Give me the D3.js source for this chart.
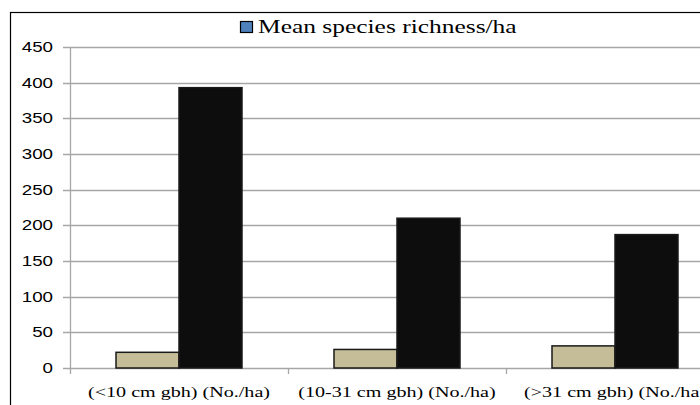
<!DOCTYPE html>
<html>
<head>
<meta charset="utf-8">
<script src="https://cdn.jsdelivr.net/npm/d3@7"></script>
<style>
  body { margin: 0; background: #fff; }
  svg { display: block; }
</style>
</head>
<body>
<svg id="drawing_region"></svg>
<script>
// values
const categories = ["(<10 cm gbh) (No./ha)", "(10-31 cm gbh) (No./ha)", "(>31 cm gbh) (No./ha)"];
const series = ["richness", "density"];
const richness = [22, 26, 31];
const density = [393, 210, 187];
const yTicks = [0, 50, 100, 150, 200, 250, 300, 350, 400, 450];
const legendLabel = "Mean species richness/ha";

const colors = { richness: "#C4BD97", density: "#0D0D0D" };
const stretch = 1.34; // picture is stretched sideways

const width = 700, height = 405;
const margin = { top: 47, left: 70 };
const plotRight = 724, plotBottom = 368;

const svg = d3.select("#drawing_region")
    .attr("width", width)
    .attr("height", height);

// outer chart frame
svg.append("rect")
    .attr("x", 10.5).attr("y", 12.5)
    .attr("width", 760).attr("height", 420)
    .attr("fill", "none")
    .attr("stroke", "#000")
    .attr("stroke-width", 1.2);

const yscale = d3.scaleLinear()
    .domain([0, 450])
    .range([plotBottom, margin.top]);

const xscale = d3.scaleBand()
    .domain(categories)
    .range([margin.left, plotRight]);

const groupWidth = 126;
const x1 = d3.scaleBand()
    .domain(series)
    .range([(xscale.bandwidth() - groupWidth) / 2, (xscale.bandwidth() + groupWidth) / 2]);

// gridlines
svg.append("g")
    .selectAll("line")
    .data(yTicks)
    .join("line")
    .attr("x1", margin.left - 7)
    .attr("x2", plotRight)
    .attr("y1", d => Math.round(yscale(d)) + 0.5)
    .attr("y2", d => Math.round(yscale(d)) + 0.5)
    .attr("stroke", "#A6A6A6")
    .attr("stroke-width", 1.3);

// y axis line
svg.append("line")
    .attr("x1", margin.left + 0.5).attr("x2", margin.left + 0.5)
    .attr("y1", margin.top).attr("y2", plotBottom + 6)
    .attr("stroke", "#A6A6A6")
    .attr("stroke-width", 1.3);

// category tick marks
svg.append("g")
    .selectAll("line")
    .data(categories.slice(1))
    .join("line")
    .attr("x1", d => Math.round(xscale(d)) + 0.5)
    .attr("x2", d => Math.round(xscale(d)) + 0.5)
    .attr("y1", plotBottom)
    .attr("y2", plotBottom + 6)
    .attr("stroke", "#A6A6A6")
    .attr("stroke-width", 1.3);

// y tick labels
svg.append("g")
    .selectAll("text")
    .data(yTicks)
    .join("text")
    .attr("transform", d => `translate(53, ${yscale(d) + 5}) scale(${stretch},1)`)
    .attr("text-anchor", "end")
    .attr("font-family", "Liberation Sans, Arial, sans-serif")
    .attr("font-size", "14px")
    .attr("fill", "#000")
    .text(d => d);

// bars
const rows = categories.map((c, i) => ({ category: c, richness: richness[i], density: density[i] }));

svg.append("g")
    .selectAll("g")
    .data(rows)
    .join("g")
    .attr("transform", d => `translate(${xscale(d.category)}, 0)`)
    .selectAll("rect")
    .data(d => series.map(s => ({ key: s, value: d[s] })))
    .join("rect")
    .attr("x", d => x1(d.key))
    .attr("y", d => yscale(d.value))
    .attr("width", x1.bandwidth())
    .attr("height", d => plotBottom - yscale(d.value))
    .attr("fill", d => colors[d.key])
    .attr("stroke", "#1a1a1a")
    .attr("stroke-width", 1.5);

// x labels
svg.append("g")
    .selectAll("text")
    .data(categories)
    .join("text")
    .attr("transform", d => `translate(${xscale(d) + xscale.bandwidth() / 2}, 397) scale(${stretch},1)`)
    .attr("text-anchor", "middle")
    .attr("font-family", "Liberation Serif, Times New Roman, serif")
    .attr("font-size", "15px")
    .attr("fill", "#000")
    .text(d => d);

// legend
const legend = svg.append("g");
legend.append("rect")
    .attr("x", 240.5).attr("y", 21.5)
    .attr("width", 12).attr("height", 11)
    .attr("fill", "#4F81BD")
    .attr("stroke", "#000")
    .attr("stroke-width", 1.2);
legend.append("text")
    .attr("transform", `translate(258, 33) scale(${stretch},1)`)
    .attr("font-family", "Liberation Serif, Times New Roman, serif")
    .attr("font-size", "19px")
    .attr("fill", "#000")
    .text(legendLabel);
</script>
</body>
</html>
